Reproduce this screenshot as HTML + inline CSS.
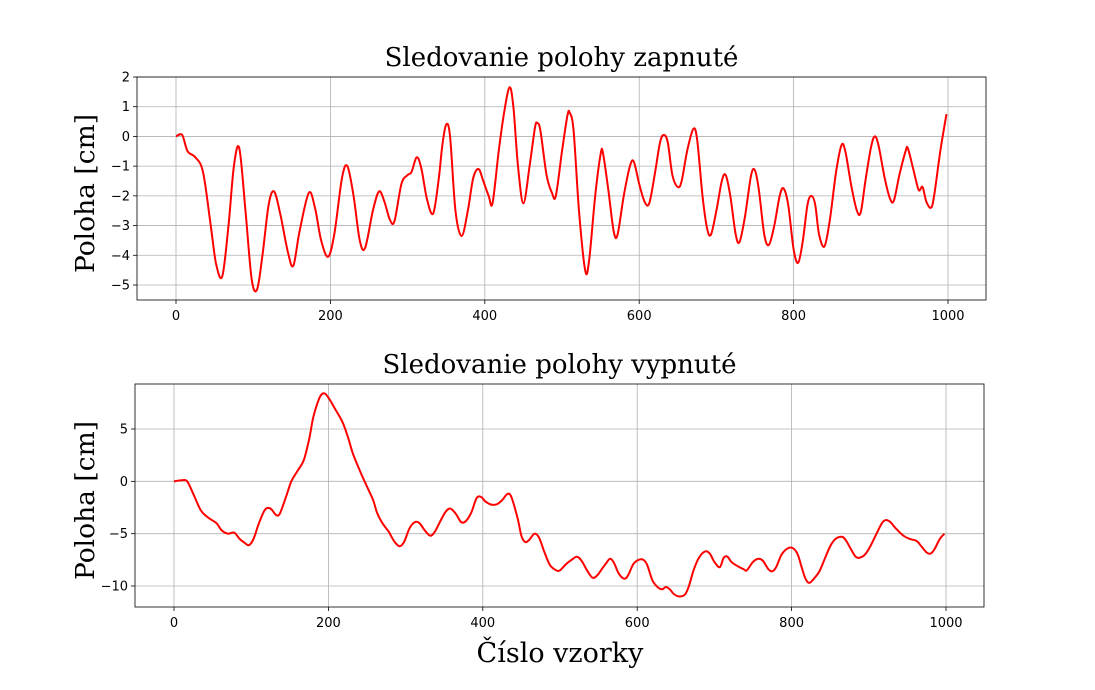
<!DOCTYPE html>
<html><head><meta charset="utf-8"><style>
body{margin:0;background:#fff}
svg{display:block}
.tk{font-family:"DejaVu Sans","Liberation Sans",sans-serif;font-size:13px;fill:#000}
.tt{font-family:"DejaVu Serif","Liberation Serif",serif;font-size:26px;fill:#000}
.yl{font-family:"DejaVu Serif","Liberation Serif",serif;font-size:26.5px;fill:#000}
.xl{font-family:"DejaVu Serif","Liberation Serif",serif;font-size:27px;fill:#000}
</style></head><body>
<svg id="c" width="1095" height="690" xmlns="http://www.w3.org/2000/svg"></svg>
<script>
const topX=[0,8,15,25,35,45,52,60,68,75,82,90,98,105,112,120,127,135,145,152,160,172,180,188,197,205,215,222,230,238,245,255,263,270,277,283,292,300,305,312,318,325,333,340,345,350,355,362,370,378,385,392,398,405,410,418,425,432,437,443,450,458,465,468,472,480,487,492,500,507,510,515,522,530,535,543,550,553,560,567,572,580,588,593,600,607,613,620,627,632,637,643,650,655,662,670,675,682,688,693,700,707,712,718,725,730,737,745,750,755,762,768,775,782,787,793,800,806,812,818,823,828,833,840,847,855,862,867,875,882,887,893,900,905,910,918,925,930,937,945,948,955,962,967,972,978,982,990,998];
const topY=[0,0.05,-0.5,-0.7,-1.2,-3,-4.3,-4.7,-3,-1,-0.4,-2.5,-4.8,-5.15,-4,-2.3,-1.85,-2.6,-3.9,-4.35,-3.2,-1.9,-2.4,-3.5,-4.05,-3.3,-1.4,-1,-2,-3.5,-3.75,-2.5,-1.85,-2.2,-2.8,-2.85,-1.6,-1.3,-1.2,-0.7,-1.1,-2.1,-2.6,-1.5,-0.3,0.4,0,-2.5,-3.35,-2.5,-1.4,-1.1,-1.5,-2,-2.25,-0.5,0.8,1.65,1,-1,-2.25,-1,0.3,0.45,0.2,-1.3,-1.9,-2,-0.5,0.7,0.8,0.2,-2.5,-4.5,-4.2,-2,-0.6,-0.55,-1.8,-3.2,-3.3,-2,-1,-0.85,-1.6,-2.2,-2.25,-1.3,-0.2,0.05,-0.2,-1.3,-1.7,-1.5,-0.5,0.25,-0.1,-2,-3.1,-3.3,-2.5,-1.5,-1.3,-2,-3.3,-3.55,-2.7,-1.3,-1.15,-1.8,-3.3,-3.65,-3,-2,-1.75,-2.3,-3.8,-4.25,-3.5,-2.3,-2,-2.3,-3.3,-3.7,-2.8,-1.2,-0.3,-0.5,-1.7,-2.5,-2.55,-1.5,-0.4,0,-0.3,-1.4,-2.1,-2.15,-1.3,-0.5,-0.4,-1.1,-1.8,-1.7,-2.2,-2.4,-2,-0.5,0.75];
const botX=[0,10,17,25,35,45,55,62,70,78,85,92,97,103,110,118,125,132,137,145,152,160,168,175,180,185,190,195,200,208,218,225,232,242,250,258,263,270,278,285,292,298,305,312,318,325,332,338,345,352,358,365,372,378,385,392,398,403,410,418,425,432,437,445,450,455,460,467,473,480,487,495,500,508,515,522,528,535,542,548,555,560,565,570,576,583,588,595,602,608,613,620,628,633,637,642,648,655,662,667,673,680,688,694,700,707,712,717,722,730,738,742,750,757,763,770,775,780,787,795,802,808,813,818,823,830,836,843,850,857,865,870,877,883,888,895,902,910,917,922,928,935,945,953,962,968,975,980,985,992,998];
const botY=[0,0.1,0,-1.2,-2.8,-3.5,-4,-4.7,-5,-4.9,-5.5,-5.9,-6.1,-5.5,-4,-2.7,-2.6,-3.2,-3.1,-1.5,0,1,2,4,6,7.3,8.2,8.4,8,7,5.7,4.3,2.6,0.8,-0.5,-1.8,-3,-4,-4.8,-5.7,-6.2,-5.8,-4.5,-3.9,-4,-4.7,-5.2,-4.8,-3.8,-2.9,-2.6,-3.1,-3.9,-3.8,-3,-1.6,-1.5,-1.9,-2.2,-2.2,-1.8,-1.2,-1.5,-3.5,-5.2,-5.8,-5.6,-5,-5.4,-6.8,-8,-8.5,-8.5,-7.9,-7.5,-7.2,-7.6,-8.5,-9.2,-9,-8.3,-7.8,-7.4,-7.8,-8.8,-9.3,-9,-7.9,-7.5,-7.5,-8,-9.5,-10.2,-10.3,-10.1,-10.3,-10.8,-11,-10.8,-10,-8.5,-7.3,-6.7,-6.9,-7.7,-8.2,-7.3,-7.2,-7.7,-8.1,-8.4,-8.5,-7.7,-7.4,-7.6,-8.4,-8.6,-8.2,-7,-6.4,-6.4,-7,-8.2,-9.3,-9.7,-9.2,-8.6,-7.4,-6.2,-5.5,-5.3,-5.6,-6.5,-7.2,-7.3,-7,-6.2,-5,-4,-3.7,-3.9,-4.5,-5.2,-5.5,-5.7,-6.2,-6.8,-6.9,-6.5,-5.5,-5];
const xTicks=[0,200,400,600,800,1000];
const topTicks=[2,1,0,-1,-2,-3,-4,-5];
const botTicks=[5,0,-5,-10];
const NS="http://www.w3.org/2000/svg", svg=document.getElementById('c');
function mk(t,a,p){const e=document.createElementNS(NS,t);for(const k in a)e.setAttribute(k,a[k]);(p||svg).appendChild(e);return e;}
function panel(cfg){
  const g=mk('g',{});
  
  
  const sx=v=>cfg.x0+(v-0)*(cfg.x1-cfg.x0)/1000;
  const sy=v=>cfg.yA+(v-cfg.vA)*(cfg.yB-cfg.yA)/(cfg.vB-cfg.vA);
  xTicks.forEach(t=>{const x=sx(t);
    mk('line',{x1:x,x2:x,y1:cfg.T,y2:cfg.B,stroke:'#b0b0b0','stroke-width':0.8},g);
    mk('line',{x1:x,x2:x,y1:cfg.B,y2:cfg.B+4,stroke:'#000','stroke-width':0.8},g);
    const tx=mk('text',{x:x,y:cfg.B+20,'text-anchor':'middle',class:'tk'},g);tx.textContent=t;
    
    });
  cfg.ticks.forEach(t=>{const y=sy(t);
    mk('line',{x1:cfg.L,x2:cfg.R,y1:y,y2:y,stroke:'#b0b0b0','stroke-width':0.8},g);
    mk('line',{x1:cfg.L-4,x2:cfg.L,y1:y,y2:y,stroke:'#000','stroke-width':0.8},g);
    const tx=mk('text',{x:cfg.L-7,y:y+4.5,'text-anchor':'end',class:'tk'},g);tx.textContent=t<0?'\u2212'+(-t):t;
    
    });
  const P=cfg.xs.map((v,i)=>[sx(v),sy(cfg.ys[i])]);
  let d='M'+P[0][0]+','+P[0][1];
  for(let i=0;i<P.length-1;i++){const p0=P[Math.max(0,i-1)],p1=P[i],p2=P[i+1],p3=P[Math.min(P.length-1,i+2)];
    d+=' C'+(p1[0]+(p2[0]-p0[0])/6)+','+(p1[1]+(p2[1]-p0[1])/6)+' '+(p2[0]-(p3[0]-p1[0])/6)+','+(p2[1]-(p3[1]-p1[1])/6)+' '+p2[0]+','+p2[1];}
  const line=mk('path',{d:d,fill:'none',stroke:'#ff0000','stroke-width':2,'stroke-linejoin':'round'},g);
  
  
  mk('rect',{x:cfg.L,y:cfg.T,width:cfg.R-cfg.L,height:cfg.B-cfg.T,fill:'none',stroke:'#000','stroke-width':0.8},g);
  const tt=mk('text',{x:(cfg.L+cfg.R)/2,y:cfg.T-11,'text-anchor':'middle',class:'tt'},g);tt.textContent=cfg.title;
  
  
  const yl=mk('text',{x:0,y:0,'text-anchor':'middle',class:'yl',transform:'translate(94,'+((cfg.T+cfg.B)/2+5)+') rotate(-90)'},g);yl.textContent='Poloha  [cm]';
  
  
}
panel({name:'top-panel',L:137,R:986,T:77,B:300,x0:176,x1:948,yA:77,vA:2,yB:285,vB:-5,ticks:topTicks,xs:topX,ys:topY,title:'Sledovanie  polohy  zapnuté'});
panel({name:'bottom-panel',L:135,R:984,T:384,B:607,x0:174,x1:946,yA:429,vA:5,yB:586,vB:-10,ticks:botTicks,xs:botX,ys:botY,title:'Sledovanie  polohy  vypnuté'});
const xl=mk('text',{x:560,y:662,'text-anchor':'middle',class:'xl'});xl.textContent='Číslo  vzorky';


</script>
</body></html>
